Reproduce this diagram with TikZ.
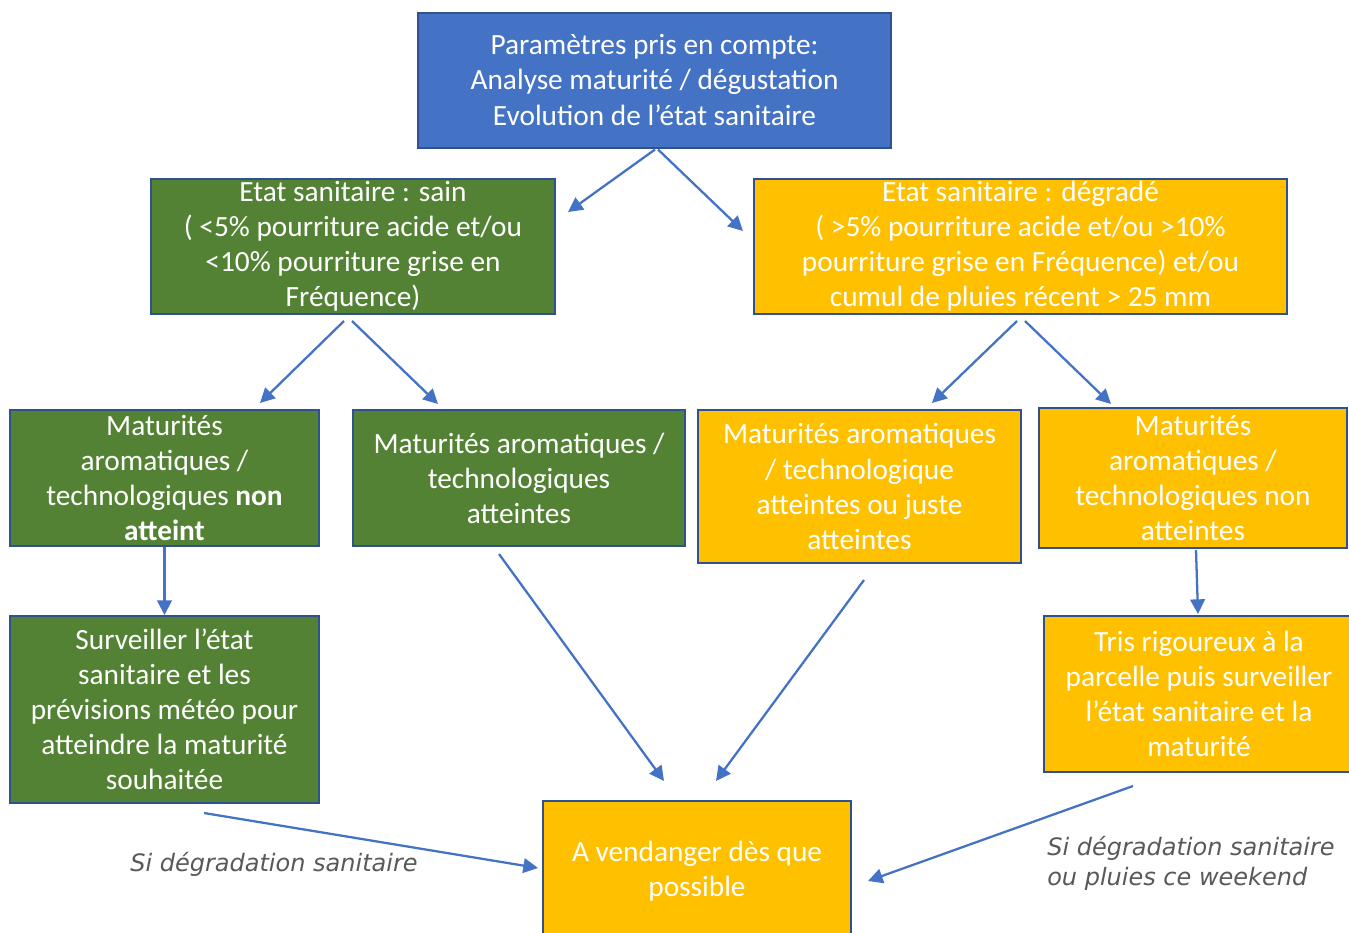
\documentclass[tikz,border=0pt]{standalone}
\usepackage{fontspec}
\setmainfont{Carlito}
\newfontfamily\lblfont{DejaVu Sans}
\usetikzlibrary{arrows.meta,calc}
\definecolor{cblue}{HTML}{4472C4}
\definecolor{cborder}{HTML}{2F528F}
\definecolor{cgreen}{HTML}{548235}
\definecolor{corange}{HTML}{FFC000}
\definecolor{cgray}{HTML}{595959}
\tikzset{
  box/.style={draw=cborder, line width=1.5pt, text=white, align=center, inner sep=0pt,
    font=\fontsize{22}{26.3}\selectfont},
  bluebox/.style={box, fill=cblue},
  greenbox/.style={box, fill=cgreen},
  orangebox/.style={box, fill=corange},
  conn/.style={draw=cblue, line width=1.7pt, -{Triangle[length=11pt,width=11pt]}},
  lbl/.style={text=cgray, font=\lblfont\itshape\fontsize{18}{22.5}\selectfont, inner sep=0pt}
}
\begin{document}
\begin{tikzpicture}[x=0.75pt,y=-0.75pt]
\clip (0,0) rectangle (1349,932);
\fill[white] (0,0) rectangle (1349,932);
\node[bluebox, minimum width=473*0.75pt, minimum height=135*0.75pt] (top) at (654.5,80)
  {Paramètres pris en compte:\\Analyse maturité / dégustation\\Evolution de l’état sanitaire};
\node[greenbox, minimum width=404*0.75pt, minimum height=135*0.75pt] (sain) at (353,246.5)
  {Etat sanitaire : sain\\( <5\% pourriture acide et/ou\\<10\% pourriture grise en\\Fréquence)};
\node[orangebox, minimum width=533*0.75pt, minimum height=135*0.75pt] (degr) at (1020.5,246.5)
  {Etat sanitaire : dégradé\\( >5\% pourriture acide et/ou >10\%\\pourriture grise en Fréquence) et/ou\\cumul de pluies récent > 25 mm};
\node[greenbox, minimum width=309*0.75pt, minimum height=136*0.75pt] (nonA) at (164.5,478)
  {Maturités\\aromatiques /\\technologiques \textbf{non}\\\textbf{atteint}};
\node[greenbox, minimum width=332*0.75pt, minimum height=136*0.75pt] (att) at (519,478)
  {Maturités aromatiques /\\technologiques\\atteintes};
\node[orangebox, minimum width=323*0.75pt, minimum height=153*0.75pt] (attJ) at (859.5,486.5)
  {Maturités aromatiques\\/ technologique\\atteintes ou juste\\atteintes};
\node[orangebox, minimum width=308*0.75pt, minimum height=140*0.75pt] (nonB) at (1193,478)
  {Maturités\\aromatiques /\\technologiques non\\atteintes};
\node[greenbox, minimum width=309*0.75pt, minimum height=187*0.75pt] (surv) at (164.5,709.5)
  {Surveiller l’état\\sanitaire et les\\prévisions météo pour\\atteindre la maturité\\souhaitée};
\node[orangebox, minimum width=310*0.75pt, minimum height=156*0.75pt] (tris) at (1199,694)
  {Tris rigoureux à la\\parcelle puis surveiller\\l’état sanitaire et la\\maturité};
\node[orangebox, minimum width=308*0.75pt, minimum height=141*0.75pt] (vend) at (697,871.5)
  {A vendanger dès que\\possible};
% connectors
\draw[conn] ($(top.south)+(0.5,1)$) -- ($(sain.north east)+(12,34)$);
\draw[conn] ($(top.south)+(3.5,1)$) -- ($(degr.north west)+(-10,53)$);
\draw[conn] ($(sain.south)+(-9,6)$) -- ($(nonA.north)+(95.5,-6)$);
\draw[conn] ($(sain.south)+(-1,6)$) -- ($(att.north)+(-81,-5)$);
\draw[conn] ($(degr.south)+(-3.5,6)$) -- ($(attJ.north)+(72.5,-6)$);
\draw[conn] ($(degr.south)+(4.5,6)$) -- ($(nonB.north)+(-82,-3)$);
\draw[conn] (nonA.south) -- (surv.north);
\draw[conn] ($(att.south)+(-20,7)$) -- ($(vend.north)+(-33,-19)$);
\draw[conn] ($(attJ.south)+(4.5,16)$) -- ($(vend.north)+(19,-19)$);
\draw[conn] ($(nonB.south)+(3,1)$) -- ($(tris.north)+(-1,-1)$);
\draw[conn] ($(surv.south)+(39.5,9)$) -- ($(vend.west)+(-4,-3.5)$);
\draw[conn] ($(tris.south)+(-66,13)$) -- ($(vend.east)+(16,9.5)$);
% labels
\node[lbl, anchor=west] (l1) at (130,864) {Si dégradation sanitaire};
\node[lbl, anchor=north west, align=left] (l2) at (1047,836) {Si dégradation sanitaire\\ou pluies ce weekend};
\end{tikzpicture}
\end{document}
